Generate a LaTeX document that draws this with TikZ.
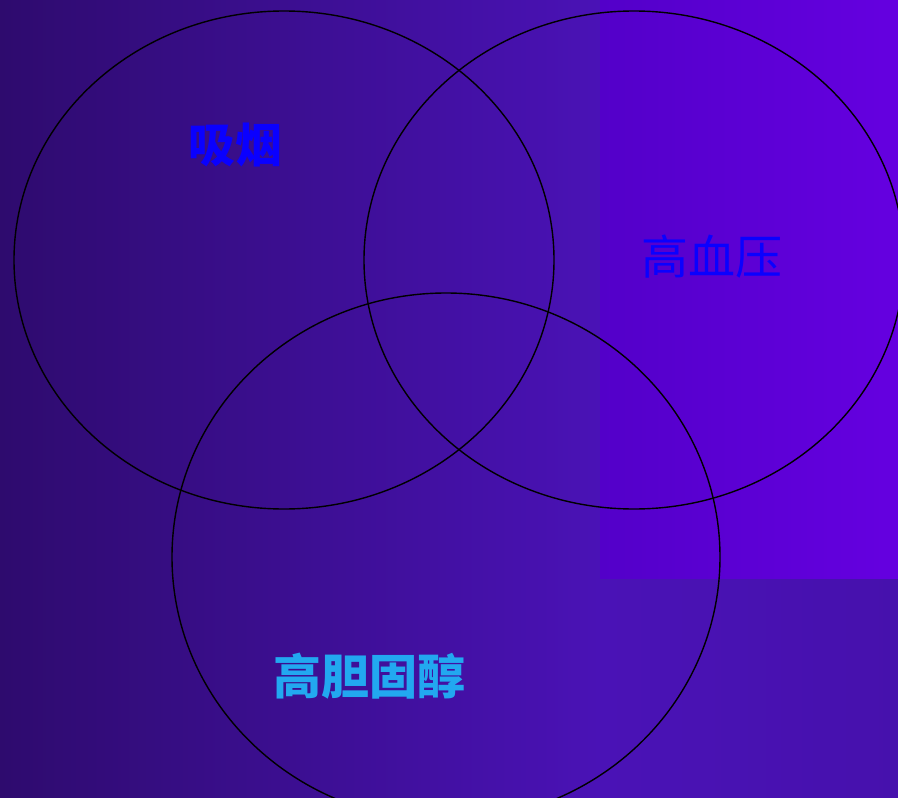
\documentclass[tikz,border=0pt]{standalone}
\usepackage{fontspec}
\usetikzlibrary{shapes.geometric}
\newfontfamily\cjk{Noto Sans CJK SC}
\definecolor{bgA}{HTML}{2E0B6E}
\definecolor{bgB}{HTML}{4A12B6}
\definecolor{bgC}{HTML}{5300C9}
\definecolor{bgD}{HTML}{6500E0}
\definecolor{lblue}{HTML}{0A00FF}
\definecolor{lcyan}{HTML}{22A8F0}
\tikzset{
  ring/.style={draw=black, line width=1.4pt},
  lbl/.style={font=\cjk\fontsize{47}{49}\selectfont, text=lblue, inner sep=0pt},
}
\begin{document}
\begin{tikzpicture}[x=1pt,y=-1pt]
\useasboundingbox (0,0) rectangle (898,798);
\shade[left color=bgA, right color=bgB] (0,0) rectangle (600,798);
\shade[left color=bgB, right color=bgB!95!black] (600,578) rectangle (898,798);
\shade[left color=bgC, right color=bgD] (600,0) rectangle (898,578);
\node[ring, ellipse, minimum width=540, minimum height=498, inner sep=0pt] (smoke) at (284,260) {};
\node[ring, ellipse, minimum width=540, minimum height=498, inner sep=0pt] (bp) at (634,260) {};
\node[ring, ellipse, minimum width=548, minimum height=528, inner sep=0pt] (chol) at (446,557) {};
\node[lbl, font=\cjk\bfseries\fontsize{47}{49}\selectfont] (t1) at (235,145) {吸烟};
\node[lbl] (t2) at (712,257) {高血压};
\node[lbl, font=\cjk\bfseries\fontsize{48}{50}\selectfont, text=lcyan] (t3) at (369,676) {高胆固醇};
\end{tikzpicture}
\end{document}
